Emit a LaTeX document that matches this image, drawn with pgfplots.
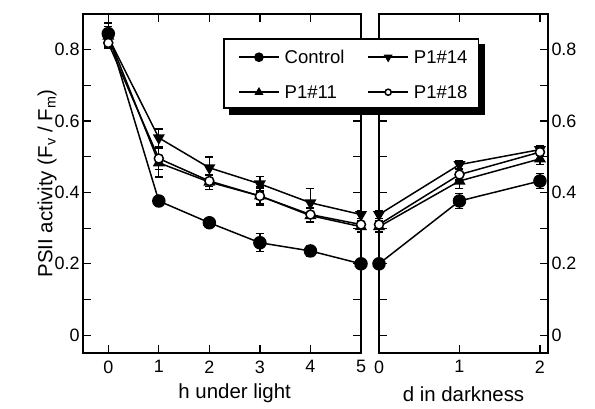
\documentclass[border=0pt]{standalone}
\usepackage{fontspec}
\setmainfont{Liberation Sans}
\usepackage{pgfplots}
\pgfplotsset{compat=1.18}

\pgfplotsset{
  panel/.style={
    scale only axis, height=339bp, ymin=-0.05, ymax=0.9,
    anchor=south west,
    ytick={0,0.2,0.4,0.6,0.8}, minor ytick={0.1,0.3,0.5,0.7},
    tick align=inside, major tick length=8bp, minor tick length=8bp,
    every tick/.style={line width=1.2bp, black},
    axis line style={line width=1.5bp},
    /pgf/number format/assume math mode=true,
    ticklabel style={font=\fontsize{18}{18}\selectfont},
    xticklabel style={yshift=-4bp},
    label style={font=\fontsize{20.5}{21}\selectfont},
  },
  eb/.style={forget plot, black, only marks, mark=none,
    error bars/.cd, y dir=both, y explicit,
    error bar style={line width=1.2bp, black},
    error mark options={rotate=90, mark size=4bp, line width=1.2bp, black}},
  ctrl/.style={black, line width=1.5bp, mark=*, mark size=6bp, mark options={fill=black}},
  p14/.style={black, line width=1.5bp, mark=triangle*, mark size=5.5bp, mark options={fill=black, rotate=180}},
  p11/.style={black, line width=1.5bp, mark=triangle*, mark size=5.5bp, mark options={fill=black}},
  p18/.style={black, line width=1.5bp, mark=*, mark size=4.5bp, mark options={fill=white}},
}

% hours under light
\pgfplotstableread{
x y e
0 0.845 0.030
1 0.376 0.012
2 0.315 0.010
3 0.259 0.025
4 0.236 0.015
5 0.200 0.010
}\ctrlH
\pgfplotstableread{
x y e
0 0.835 0.030
1 0.553 0.025
2 0.469 0.030
3 0.424 0.020
4 0.371 0.040
5 0.338 0.010
}\pfourteenH
\pgfplotstableread{
x y e
0 0.838 0.020
1 0.483 0.040
2 0.429 0.020
3 0.390 0.020
4 0.335 0.020
5 0.304 0.015
}\pelevenH
\pgfplotstableread{
x y e
0 0.819 0.010
1 0.495 0.030
2 0.432 0.015
3 0.390 0.025
4 0.338 0.020
5 0.310 0.010
}\peighteenH

% days in darkness
\pgfplotstableread{
x y e
0 0.200 0.010
1 0.376 0.020
2 0.432 0.020
}\ctrlD
\pgfplotstableread{
x y e
0 0.338 0.010
1 0.478 0.010
2 0.520 0.010
}\pfourteenD
\pgfplotstableread{
x y e
0 0.304 0.015
1 0.432 0.020
2 0.494 0.015
}\pelevenD
\pgfplotstableread{
x y e
0 0.310 0.010
1 0.450 0.015
2 0.513 0.010
}\peighteenD

\begin{document}
\begin{tikzpicture}
\useasboundingbox (0,0) rectangle (595bp,409bp);

\begin{axis}[panel, at={(83bp,56bp)}, width=278bp,
    xmin=-0.5, xmax=5, xtick={0,1,2,3,4,5},
    xlabel={h under light},
    xlabel style={at={(axis cs:2.5,-0.05)}, anchor=north, yshift=-27bp},
    ylabel={PSII activity (F\textsubscript{v} / F\textsubscript{m})},
    ylabel style={yshift=-9bp}]
\addplot[eb] table[x=x, y=y, y error=e] {\ctrlH};
\addplot[eb] table[x=x, y=y, y error=e] {\pfourteenH};
\addplot[eb] table[x=x, y=y, y error=e] {\pelevenH};
\addplot[eb] table[x=x, y=y, y error=e] {\peighteenH};
\addplot[ctrl] table[x=x, y=y] {\ctrlH};
\addplot[p14] table[x=x, y=y] {\pfourteenH};
\addplot[p11] table[x=x, y=y] {\pelevenH};
\addplot[p18] table[x=x, y=y] {\peighteenH};
\end{axis}

\begin{axis}[panel, at={(379bp,56bp)}, width=169bp,
    xmin=0, xmax=2.1, xtick={0,1,2},
    ytick pos=both, yticklabel pos=right,
    xlabel={d in darkness},
    xlabel style={yshift=-7bp},
    clip=false,
    legend columns=2,
    legend cell align=left,
    legend image code/.code={\draw[mark repeat=2, mark phase=2,
        every mark/.append style={scale=0.68}]
        plot coordinates {(0bp,0bp) (20bp,0bp) (40bp,0bp)};},
    legend style={at={(-0.8343,0.8929)}, anchor=north west,
        draw=none, fill=none, inner sep=0pt,
        font=\fontsize{18.6}{19}\selectfont,
        row sep=21.6bp,
        nodes={inner sep=0pt, text height=13.4bp, text depth=0bp},
        /tikz/every odd column/.append style={column sep=5bp},
        /tikz/every even column/.append style={column sep=23bp}}]
\addplot[eb] table[x=x, y=y, y error=e] {\ctrlD};
\addplot[eb] table[x=x, y=y, y error=e] {\pfourteenD};
\addplot[eb] table[x=x, y=y, y error=e] {\pelevenD};
\addplot[eb] table[x=x, y=y, y error=e] {\peighteenD};
\addplot[ctrl] table[x=x, y=y] {\ctrlD};
\addplot[p14] table[x=x, y=y] {\pfourteenD};
\addplot[p11] table[x=x, y=y] {\pelevenD};
\addplot[p18] table[x=x, y=y] {\peighteenD};
% legend frame with its drop shadow
\fill[black] (rel axis cs:-0.8876,0.7021) rectangle (rel axis cs:0.6272,0.9115);
\draw[line width=1.5bp, fill=white] (rel axis cs:-0.9186,0.7220) rectangle (rel axis cs:0.5873,0.9270);
\legend{Control, P1\#14, P1\#11, P1\#18}
\end{axis}
\end{tikzpicture}
\end{document}
